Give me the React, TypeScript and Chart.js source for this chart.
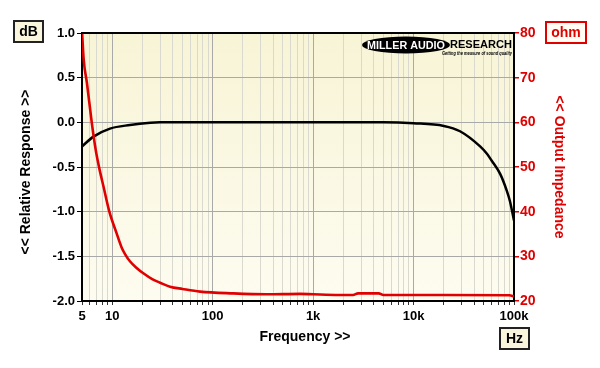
import React, { useEffect, useRef } from "react";
import { Chart, registerables } from "chart.js";

Chart.register(...registerables);

// ---- data ----
const respFreq = [5, 6.5, 9.5, 15, 24, 30, 100, 1000, 5000, 10000, 20000, 29000, 46000, 54000, 60000, 73000, 85000, 91000, 100000];
const respDb = [-0.27, -0.16, -0.07, -0.03, -0.005, 0, 0, 0, 0, -0.01, -0.04, -0.1, -0.27, -0.355, -0.43, -0.58, -0.77, -0.88, -1.1];

const impFreq = [5, 5.2, 5.6, 6.25, 6.85, 7.5, 8.15, 9.36, 11, 12.4, 13.5, 15, 17.5, 20.4, 25, 30, 37.6, 50, 75, 160, 345, 740, 1000, 1800, 2500, 2800, 4500, 5000, 20000, 90000, 100000];
const impOhm = [80.5, 74, 68.8, 60, 53.8, 49.3, 45.8, 40, 35.3, 32.0, 30.4, 28.9, 27.4, 26.2, 24.9, 24.1, 23.2, 22.7, 22.1, 21.7, 21.5, 21.6, 21.5, 21.35, 21.35, 21.7, 21.7, 21.35, 21.35, 21.3, 21.0];

const xTickValues = [5, 6, 7, 8, 9, 10, 20, 30, 40, 50, 60, 70, 80, 90, 100, 200, 300, 400, 500, 600, 700, 800, 900, 1000, 2000, 3000, 4000, 5000, 6000, 7000, 8000, 9000, 10000, 20000, 30000, 40000, 50000, 60000, 70000, 80000, 90000, 100000];
const xTickLabels: Record<number, string> = { 5: "5", 10: "10", 100: "100", 1000: "1k", 10000: "10k", 100000: "100k" };

const FONT = "'Liberation Sans', Arial, sans-serif";
const RED = "#e00000";

const decorPlugin = {
  id: "decor",
  beforeDraw(chart: any) {
    const { ctx, chartArea: a } = chart;
    ctx.save();
    ctx.fillStyle = "#ffffff";
    ctx.fillRect(0, 0, chart.width, chart.height);
    const g = ctx.createLinearGradient(0, a.top, 0, a.bottom);
    g.addColorStop(0, "rgb(248,244,214)");
    g.addColorStop(1, "rgb(253,252,240)");
    ctx.fillStyle = g;
    ctx.fillRect(a.left, a.top, a.right - a.left, a.bottom - a.top);
    ctx.restore();
  },
  afterDraw(chart: any) {
    const { ctx, chartArea: a } = chart;
    ctx.save();
    // top frame
    ctx.strokeStyle = "#000";
    ctx.lineWidth = 2;
    ctx.beginPath();
    ctx.moveTo(a.left - 1, a.top);
    ctx.lineTo(a.right + 1, a.top);
    ctx.stroke();

    const box = (x: number, y: number, w: number, h: number, stroke: string, fill: string, text: string, color: string) => {
      ctx.fillStyle = fill;
      ctx.fillRect(x, y, w, h);
      ctx.strokeStyle = stroke;
      ctx.lineWidth = 2;
      ctx.strokeRect(x, y, w, h);
      ctx.fillStyle = color;
      ctx.font = `bold 14px ${FONT}`;
      ctx.textAlign = "center";
      ctx.textBaseline = "middle";
      ctx.fillText(text, x + w / 2, y + h / 2 + 1);
    };
    box(14, 21, 29, 21, "#222", "rgb(250,246,222)", "dB", "#000");
    box(546, 22, 40, 21, RED, "#fffdf4", "ohm", RED);
    box(500, 328, 29, 21, "#222", "rgb(250,246,222)", "Hz", "#000");

    ctx.font = `bold 14px ${FONT}`;
    ctx.textAlign = "center";
    ctx.textBaseline = "middle";
    ctx.fillStyle = "#000";
    ctx.fillText("Frequency >>", 305, 337);

    ctx.save();
    ctx.translate(26, 172);
    ctx.rotate(-Math.PI / 2);
    ctx.fillText("<< Relative Response >>", 0, 0);
    ctx.restore();

    ctx.save();
    ctx.translate(559, 167);
    ctx.rotate(Math.PI / 2);
    ctx.fillStyle = RED;
    ctx.fillText("<< Output Impedance", 0, 0);
    ctx.restore();

    // logo
    ctx.fillStyle = "#000";
    ctx.beginPath();
    ctx.ellipse(406, 45, 44, 8.5, 0, 0, Math.PI * 2);
    ctx.fill();
    const fitText = (t: string, cx: number, cy: number, w: number, font: string, color: string, align: string) => {
      ctx.font = font;
      const m = ctx.measureText(t).width;
      const s = w / m;
      ctx.save();
      ctx.translate(cx, cy);
      ctx.scale(s, 1);
      ctx.fillStyle = color;
      ctx.textAlign = align;
      ctx.textBaseline = "middle";
      ctx.fillText(t, 0, 0);
      ctx.restore();
    };
    fitText("MILLER AUDIO", 406, 45.5, 78, `900 11px ${FONT}`, "#fff", "center");
    fitText("RESEARCH", 450, 45, 62, `900 11px ${FONT}`, "#000", "left");
    fitText("Getting the measure of sound quality", 442, 53.5, 70, `italic bold 5px ${FONT}`, "#000", "left");
    ctx.restore();
  },
};

export default function App() {
  const ref = useRef<HTMLCanvasElement>(null);
  useEffect(() => {
    document.body.style.margin = "0";
    const resp = respFreq.map((f, i) => ({ x: f, y: respDb[i] }));
    const imp = impFreq.map((f, i) => ({ x: f, y: impOhm[i] }));
    const chart = new Chart(ref.current!, {
      type: "scatter",
      data: {
        datasets: [
          {
            data: imp,
            yAxisID: "y2",
            showLine: true,
            borderColor: RED,
            borderWidth: 2.6,
            pointRadius: 0,
            cubicInterpolationMode: "monotone",
          },
          {
            data: resp,
            yAxisID: "y",
            showLine: true,
            borderColor: "#000",
            borderWidth: 2.5,
            pointRadius: 0,
            cubicInterpolationMode: "monotone",
          },
        ],
      },
      options: {
        animation: false,
        responsive: false,
        maintainAspectRatio: false,
        layout: { padding: { top: 33, left: 0, right: 0, bottom: 0 } },
        plugins: { legend: { display: false }, tooltip: { enabled: false } },
        scales: {
          x: {
            type: "logarithmic",
            min: 5,
            max: 100000,
            afterBuildTicks: (scale: any) => {
              scale.ticks = xTickValues.map((v) => ({ value: v }));
            },
            afterFit: (scale: any) => {
              scale.height = 67;
            },
            ticks: {
              autoSkip: false,
              maxRotation: 0,
              padding: 4,
              color: "#000",
              font: { family: FONT, size: 13, weight: "bold" },
              callback: (v: any) => xTickLabels[Number(v)] ?? "",
            },
            grid: {
              color: (c: any) => {
                const v = c.tick ? c.tick.value : 0;
                const l = Math.log10(v);
                return Math.abs(l - Math.round(l)) < 1e-6 ? "#a9a9a9" : "#d9d9cf";
              },
              lineWidth: 1,
              tickLength: 4,
              tickColor: "#333",
            },
            border: { color: "#000", width: 2 },
          },
          y: {
            position: "left",
            min: -2,
            max: 1,
            afterFit: (scale: any) => {
              scale.width = 82;
            },
            ticks: {
              stepSize: 0.5,
              padding: 2,
              color: "#000",
              font: { family: FONT, size: 13, weight: "bold" },
              callback: (v: any) => Number(v).toFixed(1),
            },
            grid: { color: "#a9a9a9", lineWidth: 1, tickLength: 5, tickColor: "#000" },
            border: { color: "#000", width: 2 },
          },
          y2: {
            position: "right",
            min: 20,
            max: 80,
            afterFit: (scale: any) => {
              scale.width = 86;
            },
            ticks: {
              stepSize: 10,
              padding: 1,
              color: RED,
              font: { family: FONT, size: 14, weight: "bold" },
            },
            grid: { drawOnChartArea: false, tickLength: 5, tickColor: RED, lineWidth: 1.5 },
            border: { color: "#000", width: 2 },
          },
        },
      },
      plugins: [decorPlugin],
    } as any);
    return () => chart.destroy();
  }, []);
  return (
    <div style={{ position: "absolute", left: 0, top: 0, width: 600, height: 368 }}>
      <canvas ref={ref} width={600} height={368} style={{ width: 600, height: 368 }} />
    </div>
  );
}
